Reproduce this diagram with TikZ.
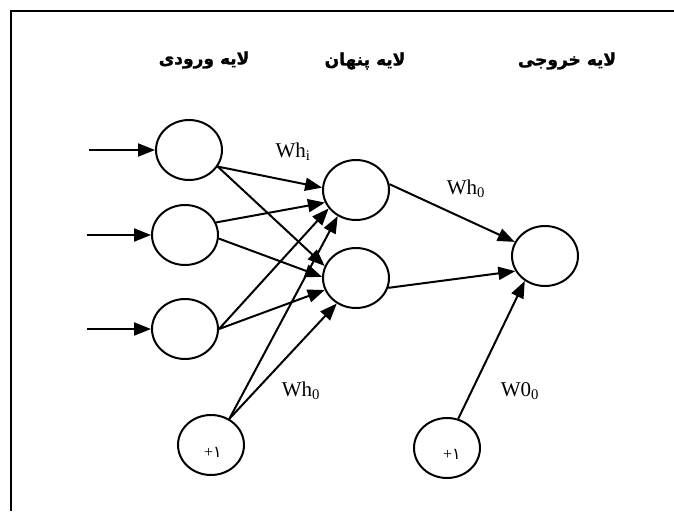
\documentclass[tikz,border=0pt]{standalone}
\usepackage{fontspec}
\setmainfont{Liberation Serif}
\newfontfamily\arabicfont[Script=Arabic]{DejaVu Sans}
\newfontfamily\titlefont[Script=Arabic,BoldFeatures={FakeBold=1.5}]{DejaVu Sans}
\TeXXeTstate=1
\usetikzlibrary{shapes.geometric,arrows.meta}
\begin{document}
\begin{tikzpicture}[x=1pt,y=-1pt,
  neuron/.style={ellipse,draw,line width=2pt,minimum width=66pt,minimum height=60pt,inner sep=0pt},
  conn/.style={line width=2pt,-{Triangle[length=17pt,width=13pt]}},
  wlabel/.style={font=\fontsize{21}{24}\selectfont,inner sep=0pt},
  title/.style={font=\fontsize{17}{20}\selectfont\titlefont\bfseries,inner sep=0pt},
  bias/.style={font=\fontsize{16}{18}\selectfont,inner sep=0pt}]
\useasboundingbox (0,0) rectangle (674,511);
\draw[line width=2.2pt] (11,511) -- (11,11) -- (674,11);
% titles
\node[title] (t1) at (204,60) {\beginR لایه ورودی\endR};
\node[title] (t2) at (365,61) {\beginR لایه پنهان\endR};
\node[title] (t3) at (567,61) {\beginR لایه خروجی\endR};
% neurons
\node[neuron] (i1) at (189,150) {};
\node[neuron] (i2) at (185,235) {};
\node[neuron] (i3) at (185,329) {};
\node[neuron] (h1) at (356,190) {};
\node[neuron] (h2) at (356,278) {};
\node[neuron] (o)  at (545,256) {};
\node[neuron] (b1) at (211,445) {};
\node[neuron] (b2) at (447,448) {};
\node[bias] (b1t) at (213,452) {+{\arabicfont ١}};
\node[bias] (b2t) at (452,454) {+{\arabicfont ١}};
% inputs
\coordinate (x1) at (89,150);
\coordinate (x2) at (87,235);
\coordinate (x3) at (87,329);
\draw[conn] (x1) -- (i1.west);
\draw[conn] (x2) -- (i2.west);
\draw[conn] (x3) -- (i3.west);
% input -> hidden
\draw[conn] (i1.330) -- (h1.176);
\draw[conn] (i1.330) -- (h2.159);
\draw[conn] (i2.22) -- (h1.202);
\draw[conn] (i2.354) -- (h2.178);
\draw[conn] (i3.0) -- (h1.214);
\draw[conn] (i3.0) -- (h2.201);
\draw[conn] (b1.55) -- (h1.235);
\draw[conn] (b1.55) -- (h2.233);
% hidden -> output
\draw[conn] (h1.10) -- (o.155);
\draw[conn] (h2.343) -- (o.207);
\draw[conn] (b2.69) -- (o.231);
% weight labels
\node[wlabel] (whi) at (293,152) {Wh\textsubscript{i}};
\node[wlabel] (who) at (466,189) {Wh\textsubscript{0}};
\node[wlabel] (whb) at (301,391) {Wh\textsubscript{0}};
\node[wlabel] (wob) at (520,391) {W0\textsubscript{0}};
\end{tikzpicture}
\end{document}
